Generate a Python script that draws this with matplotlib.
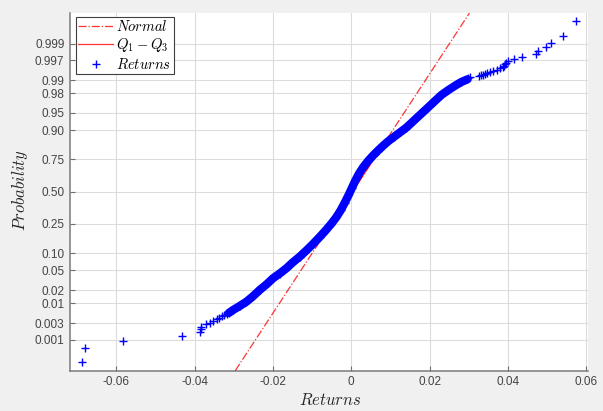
import numpy as np
import matplotlib
matplotlib.use("Agg")
import matplotlib.pyplot as plt
from statistics import NormalDist

# ---------------- data ----------------
# sparse lower tail of the sorted returns and their plotting probabilities
returns_low = [-0.06880, -0.06796, -0.05835, -0.04332, -0.03858, -0.03847,
               -0.03840, -0.03712, -0.03611, -0.03534, -0.03440, -0.03381,
               -0.03312, -0.03254, -0.03185]
prob_low = [0.000185, 0.000556, 0.000926, 0.00130, 0.00167, 0.00204,
            0.00241, 0.00278, 0.00315, 0.00352, 0.00389, 0.00426,
            0.00463, 0.00500, 0.00537]

# dense central band of the sorted returns
returns_band = [-0.03126, -0.03017, -0.02846, -0.02675, -0.02515, -0.02337,
                -0.02166, -0.01998, -0.01827, -0.01656, -0.01496, -0.01317,
                -0.01147, -0.00978, -0.00808, -0.00655, -0.00515, -0.00387,
                -0.00273, -0.00171, -0.00074, 0.00015, 0.00104, 0.00199,
                0.00308, 0.00428, 0.00555, 0.00683, 0.00805, 0.00950,
                0.01103, 0.01256, 0.01409, 0.01587, 0.01766, 0.01944,
                0.02122, 0.02301, 0.02479, 0.02658, 0.02810, 0.02963]
prob_band = [0.00567, 0.00676, 0.00852, 0.01084, 0.01434, 0.0201,
             0.0264, 0.0353, 0.0438, 0.0549, 0.0697, 0.0874,
             0.1098, 0.1375, 0.172, 0.209, 0.250, 0.295,
             0.3474, 0.4067, 0.4684, 0.5307, 0.5925, 0.648,
             0.697, 0.739, 0.775, 0.805, 0.830, 0.855,
             0.8754, 0.8936, 0.9099, 0.930, 0.9465, 0.9597,
             0.9702, 0.9783, 0.9831, 0.9867, 0.9890, 0.9905]

# sparse upper tail
returns_high = [0.02989, 0.03027, 0.03256, 0.03307, 0.03358, 0.03409,
                0.03473, 0.03537, 0.03626, 0.03728, 0.03791, 0.03881,
                0.03906, 0.03926, 0.03944, 0.03990, 0.04161, 0.04370,
                0.04716, 0.04755, 0.04971, 0.05096, 0.05402, 0.05728]
prob_high = [0.99130, 0.99167, 0.99204, 0.99241, 0.99278, 0.99315,
             0.99352, 0.99389, 0.99426, 0.99463, 0.99500, 0.99537,
             0.99574, 0.99611, 0.99648, 0.99685, 0.99722, 0.99759,
             0.99796, 0.99833, 0.99870, 0.99907, 0.99944, 0.99981]

# first and third quartile of the returns (define the reference line)
q1_return = -0.0051
q3_return = 0.0057
q1_prob = 0.25
q3_prob = 0.75

prob_ticks = [0.001, 0.003, 0.01, 0.02, 0.05, 0.10, 0.25, 0.50, 0.75,
              0.90, 0.95, 0.98, 0.99, 0.997, 0.999]
prob_tick_labels = ["0.001", "0.003", "0.01", "0.02", "0.05", "0.10", "0.25",
                    "0.50", "0.75", "0.90", "0.95", "0.98", "0.99", "0.997",
                    "0.999"]
x_ticks = [-0.06, -0.04, -0.02, 0.0, 0.02, 0.04, 0.06]
x_tick_labels = ["-0.06", "-0.04", "-0.02", "0", "0.02", "0.04", "0.06"]

# ---------------- normal probability scale ----------------
_nd = NormalDist()
_ppf = np.vectorize(_nd.inv_cdf, otypes=[float])
_cdf = np.vectorize(_nd.cdf, otypes=[float])


def fwd(p):
    p = np.clip(np.asarray(p, dtype=float), 1e-12, 1 - 1e-12)
    return _ppf(p)


def inv(z):
    return _cdf(np.asarray(z, dtype=float))


plt.rcParams["font.family"] = ["Liberation Sans", "DejaVu Sans"]
plt.rcParams["mathtext.fontset"] = "cm"

fig = plt.figure(figsize=(6.03, 4.11), dpi=100, facecolor="#f0f0f0")
ax = fig.add_axes([0.1161, 0.0981, 0.8582, 0.8710])
ax.set_facecolor("white")
ax.set_yscale("function", functions=(fwd, inv))

p_lo, p_hi = 9.3e-5, 1 - 9.3e-5
ax.set_ylim(p_lo, p_hi)
ax.set_xlim(-0.0718, 0.0603)

# reference lines through the quartiles
z_q1, z_q3 = fwd([q1_prob, q3_prob])
sigma = (q3_return - q1_return) / (z_q3 - z_q1)
mu = q1_return - sigma * z_q1
z_ends = fwd([p_lo, p_hi])
ax.plot(mu + sigma * z_ends, [p_lo, p_hi], linestyle="-.", color="red",
        lw=0.9, alpha=0.8, zorder=3, label=r"$Normal$")
ax.plot([q1_return, q3_return], [q1_prob, q3_prob], linestyle="-",
        color="red", lw=0.9, alpha=0.8, zorder=3, label=r"$Q_1-Q_3$")

# data
blue = (0, 0, 1)
ax.plot(returns_band, prob_band, "-", color=blue, lw=6.0,
        solid_capstyle="round", solid_joinstyle="round", zorder=4)
ax.plot(returns_band, prob_band, linestyle="none", marker="+", ms=6,
        mew=1.0, color=blue, zorder=5)
ax.plot(returns_low, prob_low, linestyle="none", marker="+", ms=6,
        mew=1.0, color=blue, zorder=5)
ax.plot(returns_high, prob_high, linestyle="none", marker="+", ms=6,
        mew=1.0, color=blue, zorder=5, label=r"$Returns$")

# ticks & grid
ax.set_yticks(prob_ticks)
ax.set_yticklabels(prob_tick_labels)
ax.set_xticks(x_ticks)
ax.set_xticklabels(x_tick_labels)
ax.yaxis.set_minor_locator(matplotlib.ticker.NullLocator())
ax.xaxis.set_minor_locator(matplotlib.ticker.NullLocator())
ax.tick_params(direction="in", length=3.5, width=0.8, color="#6e6e6e",
               labelsize=8.5, labelcolor="#444444", pad=4)
ax.grid(True, color="#dcdcdc", lw=0.8, zorder=0)
ax.set_axisbelow(True)

for s in ("top", "right"):
    ax.spines[s].set_visible(False)
for s in ("left", "bottom"):
    ax.spines[s].set_color("#7a7a7a")
    ax.spines[s].set_linewidth(1.1)

ax.set_xlabel(r"$Returns$", fontsize=12, color="#262626")
ax.set_ylabel(r"$Probability$", fontsize=12, color="#262626")
ax.xaxis.label.set_va("center")
ax.yaxis.label.set_va("center")
ax.xaxis.set_label_coords(0.502, -0.082)
ax.yaxis.set_label_coords(-0.0966, 0.505)

leg = ax.legend(loc="upper left", bbox_to_anchor=(0.011, 0.989),
                borderaxespad=0, fontsize=10.5, handlelength=2.4,
                handletextpad=0.2, borderpad=0.18, labelspacing=0.15,
                fancybox=False, framealpha=1, edgecolor="#404040")
leg.get_frame().set_linewidth(0.8)

fig.savefig("out.png", dpi=100, facecolor=fig.get_facecolor())
